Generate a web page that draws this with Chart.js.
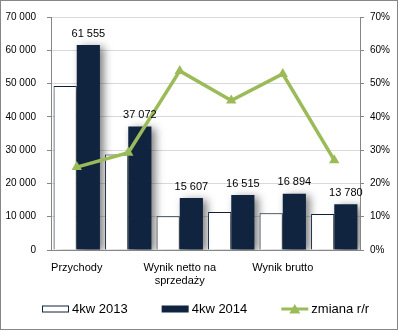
<!DOCTYPE html>
<html>
<head>
<meta charset="utf-8">
<script src="https://cdn.jsdelivr.net/npm/chart.js@4/dist/chart.umd.min.js"></script>
<style>
  html, body { margin: 0; padding: 0; background: #fff; }
  #wrap { width: 398px; height: 330px; }
</style>
</head>
<body>
<div id="wrap"><canvas id="chart" width="398" height="330"></canvas></div>
<script>
// categories (only every other one gets a visible label on the axis)
const categories = [
  'Przychody',
  'Zysk brutto ze sprzedaży',
  ['Wynik netto na', 'sprzedaży'],
  'EBITDA',
  'Wynik brutto',
  'Wynik netto'
];
const values2013 = [49300, 28700, 10150, 11400, 11050, 10850];
const values2014 = [61555, 37072, 15607, 16515, 16894, 13780];
const changeYoY = [24.9, 29.2, 53.8, 44.9, 52.9, 27.0];
const leftTicks = [0, 10000, 20000, 30000, 40000, 50000, 60000, 70000];
const rightTicks = [0, 10, 20, 30, 40, 50, 60, 70];

const NAVY = '#11243f';
const GREEN = '#9bbb59';
const FONT = '"Liberation Sans", Arial, sans-serif';

function formatThousands(v) {
  return String(Math.round(v)).replace(/\B(?=(\d{3})+(?!\d))/g, ' ');
}

const framePlugin = {
  id: 'frame',
  beforeDraw(chart) {
    const {ctx, width, height} = chart;
    ctx.save();
    ctx.fillStyle = '#fff';
    ctx.fillRect(0, 0, width, height);
    ctx.strokeStyle = '#868686';
    ctx.lineWidth = 1;
    ctx.strokeRect(0.5, 0.5, width - 1, height - 1);
    ctx.restore();
  }
};

const barShadowPlugin = {
  id: 'barShadow',
  beforeDatasetDraw(chart, args) {
    if (args.meta.type !== 'bar') return;
    const {ctx} = chart;
    ctx.save();
    ctx.shadowColor = 'rgba(0, 0, 0, 0.5)';
    ctx.shadowBlur = 9;
    ctx.shadowOffsetX = 4;
    ctx.shadowOffsetY = 2;
  },
  afterDatasetDraw(chart, args) {
    if (args.meta.type !== 'bar') return;
    chart.ctx.restore();
  }
};

const valueLabelPlugin = {
  id: 'valueLabels',
  afterDatasetsDraw(chart) {
    const {ctx} = chart;
    const meta = chart.getDatasetMeta(1);
    ctx.save();
    ctx.fillStyle = '#000';
    ctx.font = '11px ' + FONT;
    ctx.textAlign = 'center';
    ctx.textBaseline = 'bottom';
    meta.data.forEach((bar, i) => {
      ctx.fillText(formatThousands(values2014[i]), bar.x, bar.y - 6);
    });
    ctx.restore();
  }
};

// legend row under the axis: icon, short gap, label
const legendPlugin = {
  id: 'bottomLegend',
  afterDraw(chart) {
    const {ctx, chartArea} = chart;
    const iconW = 27, gap = 3, spacing = 34, y = 309;
    ctx.save();
    ctx.font = '13px ' + FONT;
    ctx.textBaseline = 'middle';
    ctx.textAlign = 'left';
    const items = chart.data.datasets.map(ds => ({
      label: ds.label,
      w: iconW + gap + ctx.measureText(ds.label).width
    }));
    const total = items.reduce((a, it) => a + it.w, 0) + spacing * (items.length - 1);
    let x = Math.round((chartArea.left + chartArea.right) / 2 - total / 2);
    items.forEach((it, i) => {
      if (i === 0) {
        ctx.fillStyle = '#fff';
        ctx.fillRect(x, y - 3.5, iconW, 7);
        ctx.strokeStyle = NAVY;
        ctx.lineWidth = 1;
        ctx.strokeRect(x + 0.5, y - 3, iconW - 1, 6);
      } else if (i === 1) {
        ctx.fillStyle = NAVY;
        ctx.fillRect(x, y - 3.5, iconW, 7);
      } else {
        ctx.strokeStyle = GREEN;
        ctx.lineWidth = 3;
        ctx.beginPath();
        ctx.moveTo(x, y);
        ctx.lineTo(x + iconW, y);
        ctx.stroke();
        ctx.fillStyle = GREEN;
        ctx.beginPath();
        ctx.moveTo(x + iconW / 2, y - 5);
        ctx.lineTo(x + iconW / 2 + 5.5, y + 4.5);
        ctx.lineTo(x + iconW / 2 - 5.5, y + 4.5);
        ctx.closePath();
        ctx.fill();
      }
      ctx.fillStyle = '#000';
      ctx.fillText(it.label, x + iconW + gap, y);
      x += it.w + spacing;
    });
    ctx.restore();
  }
};

new Chart(document.getElementById('chart'), {
  data: {
    labels: categories,
    datasets: [
      {
        type: 'bar',
        label: '4kw 2013',
        data: values2013,
        backgroundColor: '#fff',
        borderColor: NAVY,
        borderWidth: 1,
        yAxisID: 'y',
        categoryPercentage: 0.9,
        barPercentage: 1.0
      },
      {
        type: 'bar',
        label: '4kw 2014',
        data: values2014,
        backgroundColor: NAVY,
        borderWidth: 0,
        yAxisID: 'y',
        categoryPercentage: 0.9,
        barPercentage: 1.0
      },
      {
        type: 'line',
        label: 'zmiana r/r',
        data: changeYoY,
        borderColor: GREEN,
        backgroundColor: GREEN,
        borderWidth: 3.5,
        pointStyle: 'triangle',
        pointRadius: 6,
        pointBorderWidth: 0,
        tension: 0,
        yAxisID: 'y1',
        order: -1
      }
    ]
  },
  options: {
    responsive: false,
    animation: false,
    devicePixelRatio: 1,
    layout: {
      padding: {top: 17, left: 0, right: 0, bottom: 40}
    },
    scales: {
      x: {
        grid: {display: false},
        border: {color: '#868686'},
        ticks: {
          autoSkip: false,
          maxRotation: 0,
          color: '#000',
          font: {family: FONT, size: 11},
          padding: 3,
          callback(value, index) {
            return index % 2 === 0 ? categories[index] : '';
          }
        },
        afterFit(scale) {
          scale.height = 40;
        }
      },
      y: {
        position: 'left',
        min: 0,
        max: 70000,
        afterBuildTicks(scale) {
          scale.ticks = leftTicks.map(v => ({value: v}));
        },
        grid: {color: '#d9d9d9', tickColor: '#868686', tickLength: 4},
        border: {color: '#868686'},
        ticks: {
          color: '#000',
          font: {family: FONT, size: 10},
          padding: 11,
          callback: v => formatThousands(v)
        },
        afterFit(scale) {
          scale.width = 51;
        }
      },
      y1: {
        position: 'right',
        min: 0,
        max: 70,
        afterBuildTicks(scale) {
          scale.ticks = rightTicks.map(v => ({value: v}));
        },
        grid: {drawOnChartArea: false, tickColor: '#868686', tickLength: 4},
        border: {color: '#868686'},
        ticks: {
          color: '#000',
          font: {family: FONT, size: 10},
          padding: 6,
          callback: v => v + '%'
        },
        afterFit(scale) {
          scale.width = 38;
        }
      }
    },
    plugins: {
      tooltip: {enabled: false},
      legend: {display: false}
    }
  },
  plugins: [framePlugin, barShadowPlugin, valueLabelPlugin, legendPlugin]
});
</script>
</body>
</html>
